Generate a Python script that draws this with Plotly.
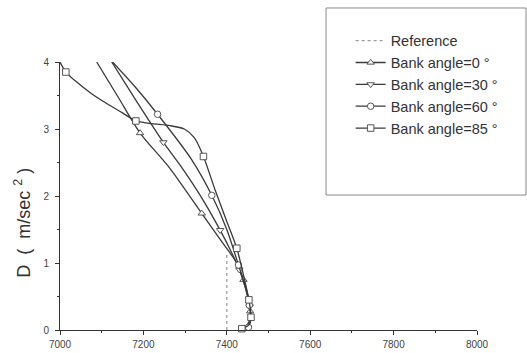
import plotly.graph_objects as go

# Reference solution (vertical dotted line)
ref_x = [7400, 7400]
ref_y = [0.0, 1.15]

# Bank angle = 0 deg
bank0_x = [7088, 7140, 7192, 7264, 7340, 7390, 7424, 7440, 7451, 7456, 7453, 7442]
bank0_y = [4.00, 3.47, 2.94, 2.41, 1.74, 1.30, 1.00, 0.75, 0.50, 0.28, 0.12, 0.02]
bank0_marks = [2, 4, 7, 9, 11]

# Bank angle = 30 deg
bank30_x = [7124, 7186, 7248, 7288, 7338, 7384, 7412, 7430, 7446, 7455, 7457, 7450]
bank30_y = [4.00, 3.39, 2.80, 2.46, 1.99, 1.49, 1.15, 0.90, 0.60, 0.35, 0.15, 0.04]
bank30_marks = [2, 5, 7, 9, 11]

# Bank angle = 60 deg
bank60_x = [7126, 7180, 7234, 7316, 7364, 7400, 7428, 7444, 7454, 7458, 7452]
bank60_y = [4.00, 3.63, 3.22, 2.54, 2.01, 1.50, 0.97, 0.65, 0.37, 0.17, 0.04]
bank60_marks = [2, 4, 6, 8, 10]

# Bank angle = 85 deg
bank85_x = [7000, 7014, 7040, 7075, 7112, 7150, 7182, 7220, 7264, 7298, 7322, 7344,
            7372, 7400, 7424, 7440, 7453, 7458, 7452, 7436]
bank85_y = [4.00, 3.85, 3.70, 3.53, 3.38, 3.24, 3.12, 3.08, 3.05, 3.00, 2.87, 2.59,
            2.09, 1.62, 1.22, 0.82, 0.45, 0.19, 0.07, 0.02]
bank85_marks = [1, 6, 11, 14, 16, 17, 19]

series = [
    ("Bank angle=0 °", bank0_x, bank0_y, bank0_marks, "triangle-up"),
    ("Bank angle=30 °", bank30_x, bank30_y, bank30_marks, "triangle-down"),
    ("Bank angle=60 °", bank60_x, bank60_y, bank60_marks, "circle"),
    ("Bank angle=85 °", bank85_x, bank85_y, bank85_marks, "square"),
]

FONT = "Liberation Sans, Arial, sans-serif"
LINE_COLOR = "#3a3a3a"
NB = "\u00a0"

fig = go.Figure()

# reference curve
fig.add_trace(go.Scatter(
    x=ref_x, y=ref_y, mode="lines", name="Reference",
    line=dict(color="#9a9a9a", width=1.2, dash="dot"),
))

for name, xs, ys, marks, sym in series:
    # smooth curve
    fig.add_trace(go.Scatter(
        x=xs, y=ys, mode="lines", showlegend=False, hoverinfo="skip",
        line=dict(color=LINE_COLOR, width=1.3, shape="spline", smoothing=0.7),
    ))
    # open symbols on the curve
    fig.add_trace(go.Scatter(
        x=[xs[i] for i in marks], y=[ys[i] for i in marks], mode="markers",
        showlegend=False, cliponaxis=False,
        marker=dict(symbol=sym, size=6.5, color="white",
                    line=dict(color="#555555", width=1)),
    ))
    # legend entry (line with symbol)
    fig.add_trace(go.Scatter(
        x=[None], y=[None], mode="lines+markers", name=name,
        line=dict(color=LINE_COLOR, width=1.3),
        marker=dict(symbol=sym, size=6.5, color="white",
                    line=dict(color="#555555", width=1)),
    ))

axis_common = dict(
    showline=True, linecolor="#333333", linewidth=1,
    showgrid=False, zeroline=False, automargin=False,
    ticks="outside", ticklen=4, tickcolor="#333333", tickwidth=1,
    tickfont=dict(family=FONT, size=10, color="#444444"),
)

fig.update_xaxes(range=[7000, 8000], tickvals=list(range(7000, 8001, 200)),
                 minor=dict(dtick=100, ticks="outside", ticklen=2, tickcolor="#333333"),
                 ticklabelstandoff=1,
                 **axis_common)
fig.update_yaxes(range=[0, 4], tickvals=[0, 1, 2, 3, 4],
                 minor=dict(dtick=0.5, ticks="outside", ticklen=2, tickcolor="#333333"),
                 ticklabelstandoff=4,
                 **axis_common)

fig.update_layout(
    width=527, height=353,
    margin=dict(l=60, r=50, t=62, b=23),
    paper_bgcolor="white", plot_bgcolor="white",
    font=dict(family=FONT, color="#333333"),
    showlegend=True,
    legend=dict(
        x=0.697, y=1.139, xanchor="left", yanchor="top",
        bgcolor="rgba(0,0,0,0)", borderwidth=0,
        font=dict(family=FONT, size=14.5, color="#333333"),
        traceorder="normal",
    ),
    shapes=[dict(type="rect", xref="paper", yref="paper",
                 x0=0.638, x1=1.1175, y0=0.5037, y1=1.2015,
                 line=dict(color="#8a8a8a", width=1), fillcolor="rgba(0,0,0,0)")],
    annotations=[dict(
        text=f"D{NB}{NB}({NB}{NB}m/sec{NB}<sup>2</sup>{NB})", textangle=-90,
        xref="paper", yref="paper", x=-0.0887, y=0.40,
        xanchor="center", yanchor="middle", showarrow=False,
        font=dict(family=FONT, size=18, color="#333333"),
    )],
)

fig.write_html("out.html")
